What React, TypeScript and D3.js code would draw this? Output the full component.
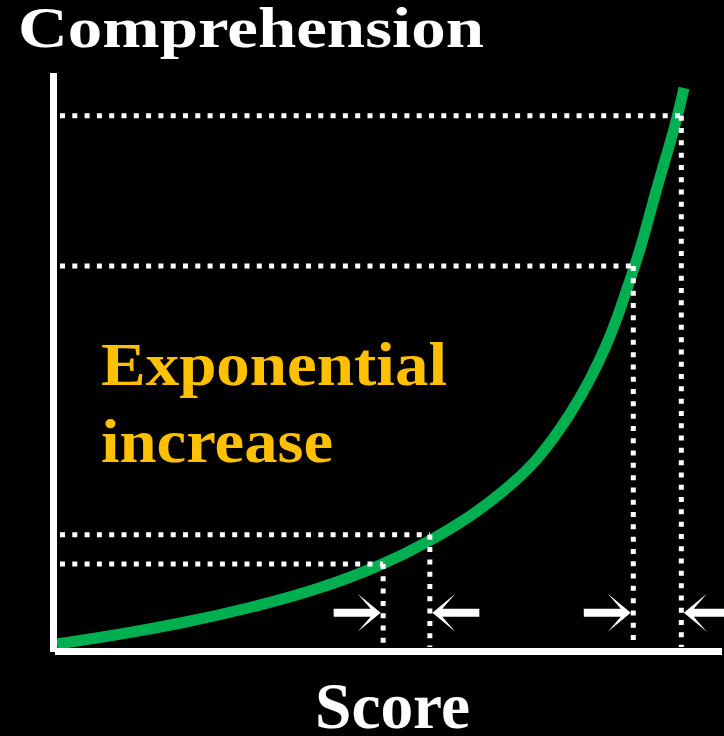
import React from "react";
import * as d3 from "d3";

const W = 724;
const H = 736;

// Curve (Score 0-100, Comprehension 0-100)
const curveScore = [0.3, 9.3, 19.19, 29.24, 39.28, 49.18, 56.22, 62.22, 67.17, 72.41, 77.51, 80.21, 82.61, 84.56, 86.21, 87.86, 89.21, 90.7, 92.95, 94.3];
const curveComp = [1.21, 2.77, 4.84, 7.44, 10.55, 14.88, 19.03, 23.18, 27.51, 32.87, 41.35, 46.89, 52.6, 58.48, 64.19, 69.9, 75.78, 82.01, 90.66, 97.4];

// Guide (dotted) points
const guideScore = [49.2, 56.2, 86.7, 93.9];
const guideComp = [15.05, 20.1, 66.6, 92.6];

// Arrows: direction (+1 right, -1 left)
const arrowDir = [1, -1, 1, -1];
const arrowComp = 6.6;

const yLabel = "Comprehension";
const xLabel = "Score";
const noteLines = ["Exponential", "increase"];

export default function App() {
  const x = d3.scaleLinear().domain([0, 100]).range([55, 722]);
  const y = d3.scaleLinear().domain([0, 100]).range([651, 73]);

  const pts: [number, number][] = curveScore.map((s, i) => [s, curveComp[i]]);
  const line = d3
    .line<[number, number]>()
    .x((d) => x(d[0]))
    .y((d) => y(d[1]))
    .curve(d3.curveBasis);

  const dotStyle = {
    stroke: "#fff",
    strokeWidth: 5,
    strokeDasharray: "5 7.3",
    fill: "none",
  };

  const arrowPath = "M0,0 L-23,-19 L-10,-4 L-47,-4 L-47,4 L-10,4 L-23,19 Z";

  return (
    <svg
      width={W}
      height={H}
      style={{ position: "absolute", left: 0, top: 0, display: "block", background: "#000" }}
    >
      <rect x={0} y={0} width={W} height={H} fill="#000" />
      <path d={line(pts) || ""} stroke="#00B050" strokeWidth={11} fill="none" strokeLinecap="butt" />

      {guideScore.map((s, i) => (
        <g key={i}>
          <line x1={60} x2={x(s)} y1={y(guideComp[i])} y2={y(guideComp[i])} style={dotStyle} />
          <line x1={x(s)} x2={x(s)} y1={y(guideComp[i])} y2={647} style={dotStyle} />
          <path
            d={arrowPath}
            fill="#fff"
            transform={`translate(${x(s) - arrowDir[i] * 2.5},${y(arrowComp)}) scale(${arrowDir[i]},1)`}
          />
        </g>
      ))}

      {/* axes */}
      <line x1={53.5} x2={53.5} y1={73} y2={652} stroke="#fff" strokeWidth={7} />
      <line x1={55} x2={722} y1={651.5} y2={651.5} stroke="#fff" strokeWidth={7} />

      <text
        x={18}
        y={47}
        fill="#fff"
        fontFamily="'Liberation Serif', serif"
        fontWeight="bold"
        fontSize={58}
        textLength={466}
        lengthAdjust="spacingAndGlyphs"
      >
        {yLabel}
      </text>
      <text
        x={315}
        y={728}
        fill="#fff"
        fontFamily="'Liberation Serif', serif"
        fontWeight="bold"
        fontSize={66}
        textLength={155}
        lengthAdjust="spacingAndGlyphs"
      >
        {xLabel}
      </text>
      <text
        x={101}
        y={385}
        fill="#FFC000"
        fontFamily="'Liberation Serif', serif"
        fontWeight="bold"
        fontSize={62}
        textLength={346}
        lengthAdjust="spacingAndGlyphs"
      >
        {noteLines[0]}
      </text>
      <text
        x={101}
        y={462}
        fill="#FFC000"
        fontFamily="'Liberation Serif', serif"
        fontWeight="bold"
        fontSize={62}
        textLength={232}
        lengthAdjust="spacingAndGlyphs"
      >
        {noteLines[1]}
      </text>
    </svg>
  );
}
